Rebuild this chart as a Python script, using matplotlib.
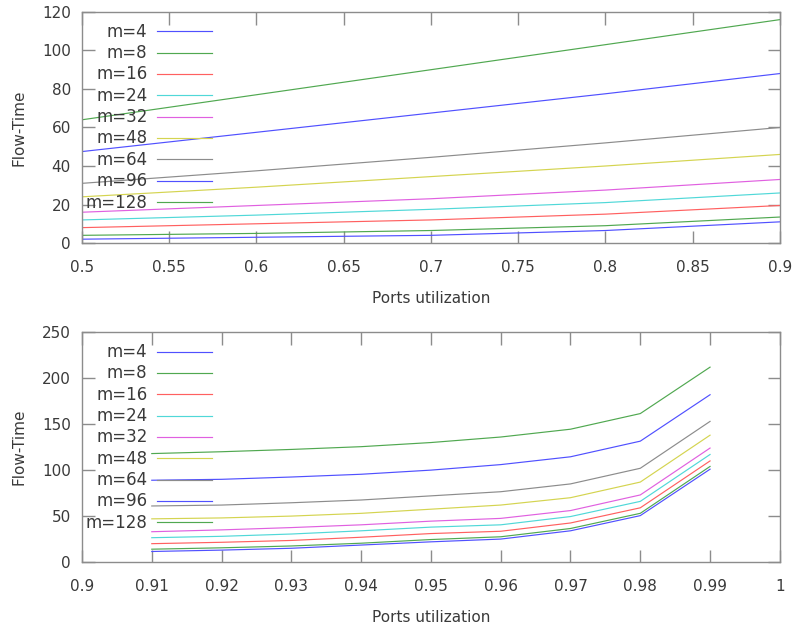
import matplotlib
matplotlib.use("Agg")
import matplotlib.pyplot as plt
import numpy as np

# series labels and colours (gnuplot-like)
labels = ["m=4", "m=8", "m=16", "m=24", "m=32", "m=48", "m=64", "m=96", "m=128"]
colors = ["#5050ff", "#50a850", "#ff6060", "#50d8d8", "#e060e0",
          "#d4d450", "#8c8c8c", "#5050ff", "#50a850"]

# top panel: utilization 0.5 .. 0.9
util_low = [0.5, 0.6, 0.7, 0.8, 0.9]
flow_low = [
    [2, 3, 4, 6.5, 11],          # m=4
    [4, 5, 6.5, 9, 13.5],        # m=8
    [8, 10, 12, 15, 19.5],       # m=16
    [12, 14.5, 17.5, 21, 26],    # m=24
    [16, 19.5, 23, 27.5, 33],    # m=32
    [24, 29, 34.5, 40, 46],      # m=48
    [31, 37.5, 44.5, 52, 60],    # m=64
    [47.5, 57.5, 67.5, 77.5, 88],  # m=96
    [64, 77, 90, 103, 116],      # m=128
]

# bottom panel: utilization 0.91 .. 0.99
util_high = [0.91, 0.92, 0.93, 0.94, 0.95, 0.96, 0.97, 0.98, 0.99]
flow_high = [
    [11.5, 13, 15, 18.5, 22, 25, 34, 50.5, 101],     # m=4
    [14, 15.5, 17.5, 20.5, 24.5, 27.5, 36.5, 53, 104],  # m=8
    [20, 21.5, 23.5, 27, 31, 33.5, 42.5, 59, 110],   # m=16
    [26.5, 28, 30.5, 34, 38, 40.5, 49.5, 66, 117],   # m=24
    [33, 35, 37.5, 40.5, 44.5, 47.5, 56, 73, 124],   # m=32
    [47, 48, 50, 53, 57.5, 62, 70, 87, 138],         # m=48
    [61, 62, 64.5, 67.5, 72, 76.5, 85, 102, 153],    # m=64
    [89, 90, 92.5, 95.5, 100, 106, 114.5, 131.5, 182],  # m=96
    [118, 120, 122.5, 125.5, 130, 136, 144.5, 161.5, 212],  # m=128
]

plt.rcParams['font.family'] = ['DejaVu Sans']
plt.rcParams['font.size'] = 11
text_col = "#3a3a3a"
frame_col = "#8c8c8c"

fig = plt.figure(figsize=(7.93, 6.28), dpi=100)
ax1 = fig.add_axes([0.1034, 0.613, 0.880, 0.368])
ax2 = fig.add_axes([0.1034, 0.105, 0.880, 0.366])


def style(ax):
    for s in ax.spines.values():
        s.set_color(frame_col)
        s.set_linewidth(1.0)
    ax.tick_params(direction='in', length=9, width=1, color=frame_col,
                   labelcolor=text_col, top=True, right=True)
    ax.tick_params(axis='x', pad=12)
    ax.tick_params(axis='y', pad=8)
    ax.xaxis.set_major_formatter(plt.FormatStrFormatter('%g'))
    ax.yaxis.set_major_formatter(plt.FormatStrFormatter('%g'))
    ax.set_xlabel("Ports utilization", color=text_col, labelpad=12)
    ax.set_ylabel("Flow-Time", color=text_col)
    ax.yaxis.set_label_coords(-0.08, 0.5)
    leg = ax.legend(loc='upper left', bbox_to_anchor=(-0.01, 1.0),
                    markerfirst=False, frameon=False, handlelength=3.6,
                    labelspacing=0.22, handletextpad=0.6, borderpad=0.2)
    for t in leg.get_texts():
        t.set_color(text_col)
        t.set_fontsize(12)


for vals, lab, c in zip(flow_low, labels, colors):
    ax1.plot(util_low, vals, color=c, lw=0.85, label=lab)
ax1.set_xlim(0.5, 0.9)
ax1.set_ylim(0, 120)
ax1.set_xticks(np.arange(0.5, 0.901, 0.05))
ax1.set_yticks(np.arange(0, 121, 20))
style(ax1)

for vals, lab, c in zip(flow_high, labels, colors):
    ax2.plot(util_high, vals, color=c, lw=0.85, label=lab)
ax2.set_xlim(0.9, 1.0)
ax2.set_ylim(0, 250)
ax2.set_xticks(np.arange(0.9, 1.0001, 0.01))
ax2.set_yticks(np.arange(0, 251, 50))
style(ax2)

fig.savefig("out.png", dpi=100)
